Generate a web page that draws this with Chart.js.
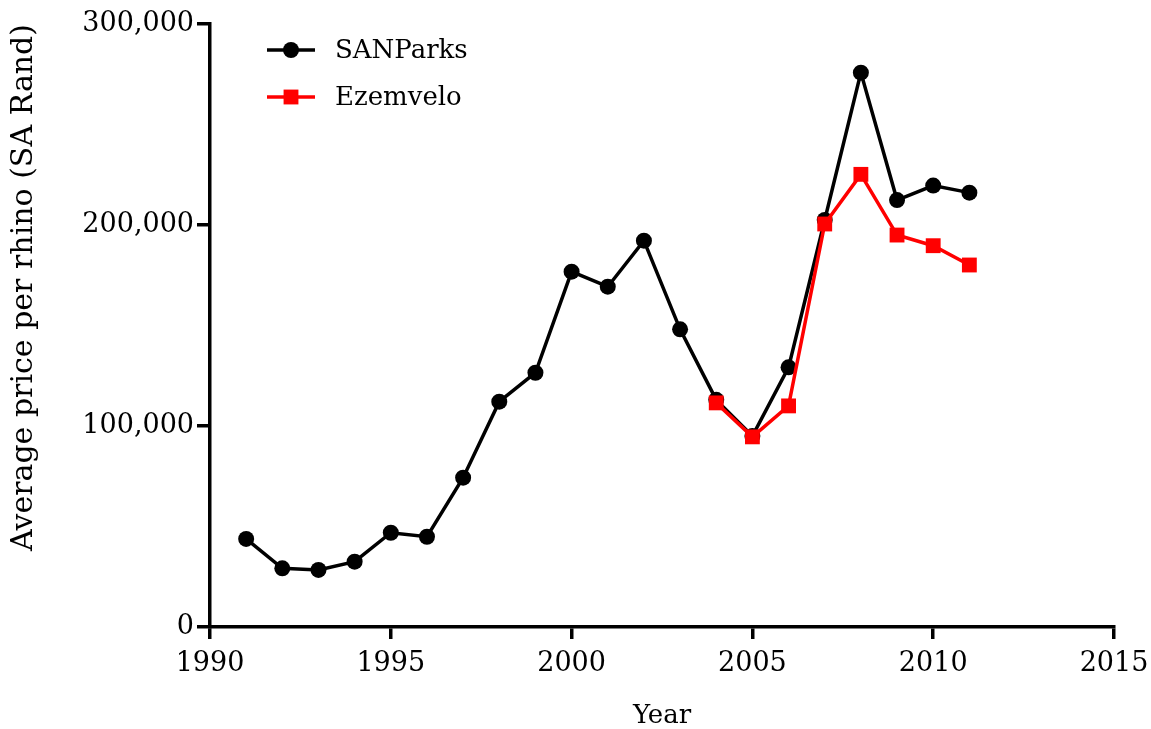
<!DOCTYPE html>
<html>
<head>
<meta charset="utf-8">
<script src="https://cdn.jsdelivr.net/npm/chart.js@4"></script>
<style>
  html, body { margin: 0; padding: 0; background: #fff; }
  #wrap { width: 1151px; height: 729px; }
</style>
</head>
<body>
<div id="wrap"><canvas id="c" width="1151" height="729"></canvas></div>
<script>
const years = [1991,1992,1993,1994,1995,1996,1997,1998,1999,2000,2001,2002,2003,2004,2005,2006,2007,2008,2009,2010,2011];
const sanparks = [43800,29200,28400,32500,46900,44900,74300,112100,126500,176800,169300,192200,148100,113000,95000,129200,202500,275800,212400,219600,216100];
const ezemveloYears = [2004,2005,2006,2007,2008,2009,2010,2011];
const ezemvelo = [111500,94600,110000,200500,225200,195000,189700,180100];
const xTicks = [1990,1995,2000,2005,2010,2015];
const yTicks = [0,100000,200000,300000];

const FONT = "'DejaVu Serif', 'Liberation Serif', serif";
const FS = 27;

new Chart(document.getElementById('c'), {
  type: 'line',
  data: {
    datasets: [
      {
        label: 'SANParks',
        data: years.map((y, i) => ({x: y, y: sanparks[i]})),
        borderColor: '#000000',
        backgroundColor: '#000000',
        borderWidth: 3.5,
        pointStyle: 'circle',
        pointRadius: 8,
        pointBorderWidth: 0,
        tension: 0,
        order: 1
      },
      {
        label: 'Ezemvelo',
        data: ezemveloYears.map((y, i) => ({x: y, y: ezemvelo[i]})),
        borderColor: '#ff0000',
        backgroundColor: '#ff0000',
        borderWidth: 3.5,
        pointStyle: 'rect',
        pointRadius: 10.5,
        pointBorderWidth: 0,
        tension: 0,
        order: 0
      }
    ]
  },
  options: {
    responsive: false,
    animation: false,
    devicePixelRatio: 1,
    layout: { padding: { left: 0, top: 24, right: 37, bottom: 0 } },
    plugins: { legend: { display: false }, tooltip: { enabled: false } },
    scales: {
      x: {
        type: 'linear',
        min: 1990, max: 2015,
        afterFit(s) { s.height = 102; s.paddingLeft = 0; s.paddingRight = 0; },
        afterBuildTicks(s) { s.ticks = xTicks.map(v => ({value: v})); },
        grid: { drawOnChartArea: false, drawTicks: true, tickLength: 12, color: '#000', lineWidth: 3.5 },
        border: { display: true, color: '#000', width: 3.5 },
        ticks: { color: '#000', font: { family: FONT, size: FS }, padding: 9, maxRotation: 0, callback: v => String(v) },
        title: { display: true, text: 'Year', color: '#000', font: { family: FONT, size: 26, lineHeight: 1.0 }, padding: 0 }
      },
      y: {
        type: 'linear',
        min: 0, max: 300000,
        afterFit(s) { s.width = 210; s.paddingTop = 0; s.paddingBottom = 0; },
        afterBuildTicks(s) { s.ticks = yTicks.map(v => ({value: v})); },
        grid: { drawOnChartArea: false, drawTicks: true, tickLength: 13, color: '#000', lineWidth: 3.5 },
        border: { display: true, color: '#000', width: 3.5 },
        ticks: { color: '#000', font: { family: FONT, size: FS }, padding: 3, callback: v => v.toLocaleString('en-US') },
        title: { display: true, align: 'end', text: 'Average price per rhino (SA Rand)', color: '#000', font: { family: FONT, size: 30, lineHeight: 1.2 }, padding: { top: 6, bottom: 0 } }
      }
    }
  },
  plugins: [{
    id: 'legendDraw',
    afterDatasetsDraw(chart) {
      const ctx = chart.ctx;
      const x0 = 267, x1 = 315, tx = 335;
      const ys = [50, 97];
      chart.data.datasets.forEach((ds, i) => {
        const y = ys[i];
        ctx.save();
        ctx.strokeStyle = ds.borderColor;
        ctx.lineWidth = ds.borderWidth;
        ctx.beginPath(); ctx.moveTo(x0, y); ctx.lineTo(x1, y); ctx.stroke();
        ctx.fillStyle = ds.backgroundColor;
        Chart.helpers.drawPoint(ctx, {pointStyle: ds.pointStyle, radius: ds.pointRadius, borderWidth: 0, rotation: 0}, (x0 + x1) / 2, y);
        ctx.fillStyle = '#000';
        ctx.font = "26px " + FONT;
        ctx.textBaseline = 'middle';
        ctx.textAlign = 'left';
        ctx.fillText(ds.label, tx, y + 1);
        ctx.restore();
      });
    }
  }]
});
</script>
</body>
</html>
